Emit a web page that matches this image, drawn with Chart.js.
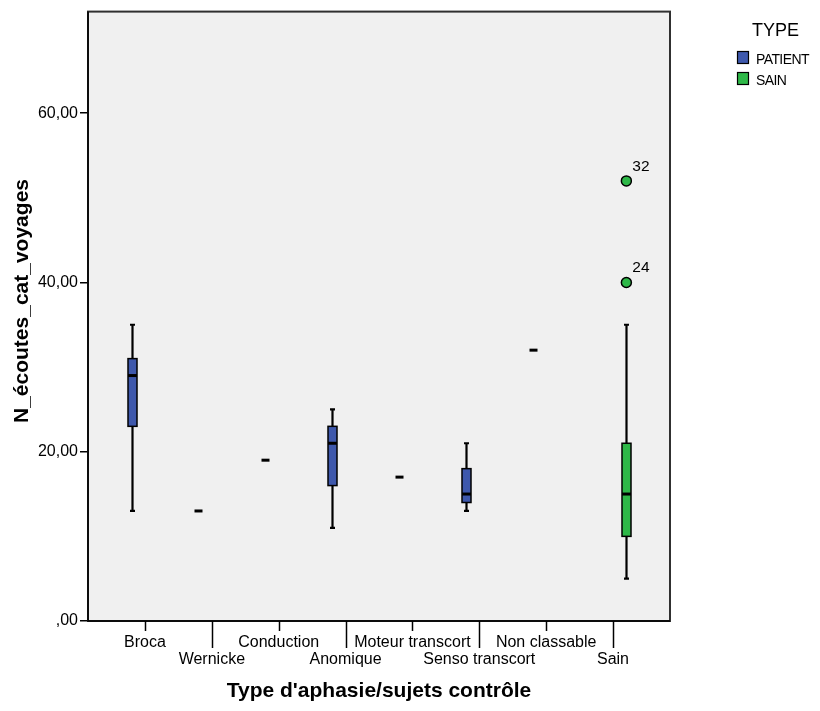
<!DOCTYPE html>
<html>
<head>
<meta charset="utf-8">
<script src="https://cdn.jsdelivr.net/npm/chart.js@4"></script>
<style>
  body { margin: 0; background: #fff; }
  #wrap { width: 820px; height: 711px; }
</style>
</head>
<body>
<div id="wrap"><canvas id="chart" width="820" height="711"></canvas></div>
<script>
const categories = ["Broca", "Wernicke", "Conduction", "Anomique", "Moteur transcort", "Senso transcort", "Non classable", "Sain"];

// PATIENT boxes (null = no data)
const patientMin = [13, 13, 19, 11, 17, 13, 32, null];
const patientQ1 = [23, 13, 19, 16, 17, 14, 32, null];
const patientMed = [29, 13, 19, 21, 17, 15, 32, null];
const patientQ3 = [31, 13, 19, 23, 17, 18, 32, null];
const patientMax = [35, 13, 19, 25, 17, 21, 32, null];

// SAIN boxes
const sainMin = [null, null, null, null, null, null, null, 5];
const sainQ1 = [null, null, null, null, null, null, null, 10];
const sainMed = [null, null, null, null, null, null, null, 15];
const sainQ3 = [null, null, null, null, null, null, null, 21];
const sainMax = [null, null, null, null, null, null, null, 35];

const sainOutlierCat = [7, 7];
const sainOutliers = [40, 52];
const sainOutlierIds = ["24", "32"];

const yTicks = [0, 20, 40, 60];

const BLUE = "#3e58ac";
const GREEN = "#2eb848";
const FONT = "'Liberation Sans', Arial, sans-serif";
const GROUP_OFFSET = 0.2;

const groups = [
  { name: "PATIENT", color: BLUE, off: -GROUP_OFFSET, min: patientMin, q1: patientQ1, med: patientMed, q3: patientQ3, max: patientMax },
  { name: "SAIN", color: GREEN, off: GROUP_OFFSET, min: sainMin, q1: sainQ1, med: sainMed, q3: sainQ3, max: sainMax },
];

const boxPlugin = {
  id: "boxes",
  beforeDraw(chart) {
    const { ctx, chartArea: a } = chart;
    ctx.save();
    ctx.fillStyle = "#f0f0f0";
    ctx.fillRect(a.left, a.top, a.right - a.left, a.bottom - a.top);
    ctx.restore();
  },
  beforeDatasetsDraw(chart) {
    const { ctx } = chart;
    const xs = chart.scales.x, ys = chart.scales.y;
    ctx.save();
    ctx.strokeStyle = "#000";
    groups.forEach((g) => {
      categories.forEach((c, i) => {
        if (g.min[i] == null) return;
        const cx = Math.round(xs.getPixelForValue(i + g.off)) + 0.5;
        const yMin = ys.getPixelForValue(g.min[i]);
        const yMax = ys.getPixelForValue(g.max[i]);
        const yQ1 = ys.getPixelForValue(g.q1[i]);
        const yQ3 = ys.getPixelForValue(g.q3[i]);
        const yMed = ys.getPixelForValue(g.med[i]);
        if (g.min[i] === g.max[i]) {
          ctx.lineWidth = 3;
          ctx.beginPath();
          ctx.moveTo(cx - 4, yMed);
          ctx.lineTo(cx + 4, yMed);
          ctx.stroke();
          return;
        }
        // whiskers
        ctx.lineWidth = 2.2;
        ctx.beginPath();
        ctx.moveTo(cx, yMin);
        ctx.lineTo(cx, yQ1);
        ctx.moveTo(cx, yQ3);
        ctx.lineTo(cx, yMax);
        ctx.moveTo(cx - 2.5, yMin);
        ctx.lineTo(cx + 2.5, yMin);
        ctx.moveTo(cx - 2.5, yMax);
        ctx.lineTo(cx + 2.5, yMax);
        ctx.stroke();
        // box
        ctx.fillStyle = g.color;
        ctx.fillRect(cx - 4.5, yQ3, 9, yQ1 - yQ3);
        ctx.lineWidth = 1.5;
        ctx.strokeRect(cx - 4.5, yQ3, 9, yQ1 - yQ3);
        // median
        ctx.lineWidth = 3;
        ctx.beginPath();
        ctx.moveTo(cx - 4.5, yMed);
        ctx.lineTo(cx + 4.5, yMed);
        ctx.stroke();
      });
    });
    ctx.restore();
  },
  afterDraw(chart) {
    const { ctx, chartArea: a } = chart;
    const xs = chart.scales.x, ys = chart.scales.y;
    ctx.save();
    // frame
    ctx.strokeStyle = "#303030";
    ctx.lineWidth = 2;
    ctx.strokeRect(a.left, a.top, a.right - a.left, a.bottom - a.top);
    ctx.strokeStyle = "#000";
    ctx.lineWidth = 1.5;
    ctx.beginPath();
    ctx.moveTo(a.left, a.top);
    ctx.lineTo(a.left, a.bottom);
    ctx.lineTo(a.right, a.bottom);
    ctx.stroke();
    // x tick marks, alternating length
    categories.forEach((c, i) => {
      const x = Math.round(xs.getPixelForValue(i)) + 0.5;
      ctx.beginPath();
      ctx.moveTo(x, a.bottom);
      ctx.lineTo(x, a.bottom + (i % 2 ? 27 : 10));
      ctx.stroke();
    });
    // outlier ids
    ctx.fillStyle = "#000";
    ctx.font = "15.5px " + FONT;
    ctx.textAlign = "left";
    ctx.textBaseline = "alphabetic";
    sainOutliers.forEach((v, k) => {
      const x = xs.getPixelForValue(sainOutlierCat[k] + GROUP_OFFSET);
      const y = ys.getPixelForValue(v);
      ctx.fillText(sainOutlierIds[k], x + 6, y - 10);
    });
    // y title
    ctx.save();
    ctx.translate(28, 301);
    ctx.rotate(-Math.PI / 2);
    ctx.font = "bold 21px " + FONT;
    ctx.textAlign = "center";
    ctx.fillText("N_écoutes_cat_voyages", 0, 0);
    ctx.restore();
    // legend
    ctx.font = "18px " + FONT;
    ctx.fillText("TYPE", 752, 36);
    ctx.font = "14px " + FONT;
    ctx.letterSpacing = "-0.6px";
    groups.forEach((g, k) => {
      const y = 51 + k * 21;
      ctx.fillStyle = g.color;
      ctx.fillRect(737.5, y + 0.5, 11, 12);
      ctx.strokeStyle = "#000";
      ctx.lineWidth = 1.2;
      ctx.strokeRect(737.5, y + 0.5, 11, 12);
      ctx.fillStyle = "#000";
      ctx.fillText(g.name, 756, y + 13);
    });
    ctx.restore();
  },
};

const ctx = document.getElementById("chart").getContext("2d");
new Chart(ctx, {
  type: "scatter",
  data: {
    datasets: [
      {
        label: "SAIN outliers",
        data: sainOutliers.map((v, k) => ({ x: sainOutlierCat[k] + GROUP_OFFSET, y: v })),
        pointRadius: 5,
        pointBackgroundColor: GREEN,
        pointBorderColor: "#000",
        pointBorderWidth: 1.5,
      },
    ],
  },
  options: {
    responsive: false,
    animation: false,
    layout: { padding: { left: 0, top: 9, right: 150, bottom: 0 } },
    plugins: { legend: { display: false }, tooltip: { enabled: false } },
    scales: {
      x: {
        type: "linear",
        min: -57 / (468 / 7),
        max: 7 + 57 / (468 / 7),
        afterFit: (s) => { s.height = 90; },
        afterBuildTicks: (s) => { s.ticks = categories.map((c, i) => ({ value: i })); },
        grid: { display: false, drawTicks: false },
        border: { display: false },
        ticks: {
          autoSkip: false,
          maxRotation: 0,
          padding: 13,
          color: "#000",
          font: { family: FONT, size: 16, lineHeight: 1.07 },
          callback: (v) => (v % 2 ? ["", categories[v]] : categories[v]),
        },
        title: {
          display: true,
          text: "Type d'aphasie/sujets contrôle",
          color: "#000",
          font: { family: FONT, size: 21, weight: "bold", lineHeight: 1.2 },
          padding: { top: 0, bottom: 7 },
        },
      },
      y: {
        min: 0,
        max: 72,
        afterFit: (s) => { s.width = 88; },
        afterBuildTicks: (s) => { s.ticks = yTicks.map((v) => ({ value: v })); },
        grid: { display: true, drawOnChartArea: false, drawTicks: true, tickLength: 8, color: "#000", lineWidth: 1.5 },
        border: { display: false },
        ticks: {
          padding: 2,
          color: "#000",
          font: { family: FONT, size: 16 },
          callback: (v) => (v === 0 ? ",00" : v + ",00"),
        },
      },
    },
  },
  plugins: [boxPlugin],
});
</script>
</body>
</html>
